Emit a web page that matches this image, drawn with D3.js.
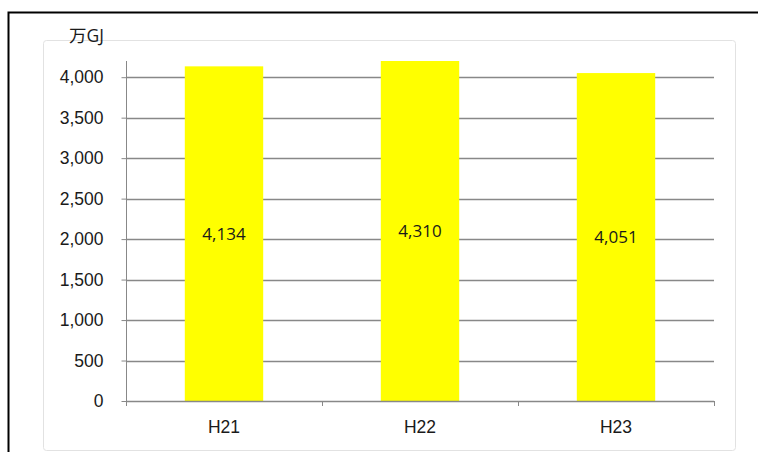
<!DOCTYPE html>
<html>
<head>
<meta charset="utf-8">
<script src="https://cdn.jsdelivr.net/npm/d3@7"></script>
<style>
  body { margin: 0; background: #fff; }
  svg { display: block; font-family: 'Open Sans', 'Noto Sans CJK JP', sans-serif; }
</style>
</head>
<body>
<div id="chart"></div>
<script>
// values
const categories = ['H21', 'H22', 'H23'];
const values = [4134, 4310, 4051];
const yTicks = [0, 500, 1000, 1500, 2000, 2500, 3000, 3500, 4000];
const unitLabel = '万GJ';

const width = 758;
const height = 452;
const plot = { left: 126, right: 714, top: 61, bottom: 401 };
const fontSize = '17.5px';

const svg = d3.select('#chart')
  .append('svg')
  .attr('width', width)
  .attr('height', height);

// outer frame (only top and left edges are in view)
svg.append('path')
  .attr('d', 'M 8.5 ' + height + ' V 12.5 H ' + width)
  .attr('fill', 'none')
  .attr('stroke', '#000')
  .attr('stroke-width', 2);

// inner chart area
svg.append('rect')
  .attr('x', 43.5)
  .attr('y', 40.5)
  .attr('width', 692)
  .attr('height', 410)
  .attr('rx', 3)
  .attr('fill', '#fff')
  .attr('stroke', '#e2e2e2');

const x = d3.scaleBand()
  .domain(categories)
  .range([plot.left, plot.right])
  .paddingInner(0.6)
  .paddingOuter(0.3);

const y = d3.scaleLinear()
  .domain([0, 4200])
  .range([plot.bottom, plot.top]);

// gridlines
svg.append('g')
  .selectAll('line')
  .data(yTicks.filter(d => d > 0))
  .enter()
  .append('line')
  .attr('x1', plot.left)
  .attr('x2', plot.right)
  .attr('y1', d => Math.round(y(d)) + 0.5)
  .attr('y2', d => Math.round(y(d)) + 0.5)
  .attr('stroke', '#888')
  .attr('stroke-width', 1.6);

// bars, clipped to the plot area
svg.append('clipPath')
  .attr('id', 'plot-clip')
  .append('rect')
  .attr('x', plot.left)
  .attr('y', plot.top)
  .attr('width', plot.right - plot.left)
  .attr('height', plot.bottom - plot.top);

svg.append('g')
  .attr('clip-path', 'url(#plot-clip)')
  .selectAll('rect')
  .data(values)
  .enter()
  .append('rect')
  .attr('x', (d, i) => x(categories[i]))
  .attr('y', d => y(d))
  .attr('width', x.bandwidth())
  .attr('height', d => y(0) - y(d))
  .attr('fill', '#ffff00');

// y axis
const yAxis = d3.axisLeft(y)
  .tickValues(yTicks)
  .tickSize(5)
  .tickPadding(18)
  .tickFormat(d3.format(','));

svg.append('g')
  .attr('transform', 'translate(' + (plot.left + 0.5) + ',0)')
  .call(yAxis)
  .call(g => g.select('.domain')
    .attr('d', 'M0,' + plot.top + 'V' + plot.bottom)
    .attr('stroke', '#888'))
  .call(g => g.selectAll('.tick line').attr('stroke', '#888'))
  .call(g => g.selectAll('.tick text')
    .attr('fill', '#1a1a1a')
    .style('font-size', fontSize));

// x axis with ticks at category boundaries
svg.append('g')
  .attr('transform', 'translate(0,' + (plot.bottom + 0.5) + ')')
  .call(d3.axisBottom(x).tickSize(0).tickPadding(19))
  .call(g => g.select('.domain').remove())
  .call(g => g.selectAll('.tick text')
    .attr('fill', '#1a1a1a')
    .style('font-size', fontSize));

const bounds = d3.range(categories.length + 1)
  .map(i => plot.left + i * x.step());

svg.append('line')
  .attr('x1', plot.left)
  .attr('x2', plot.right)
  .attr('y1', plot.bottom + 0.5)
  .attr('y2', plot.bottom + 0.5)
  .attr('stroke', '#888')
  .attr('stroke-width', 1.6);

svg.append('g')
  .selectAll('line')
  .data(bounds)
  .enter()
  .append('line')
  .attr('x1', d => d + 0.5)
  .attr('x2', d => d + 0.5)
  .attr('y1', plot.bottom)
  .attr('y2', plot.bottom + 5)
  .attr('stroke', '#888');

// value labels in the middle of the visible bar
svg.append('g')
  .selectAll('text')
  .data(values)
  .enter()
  .append('text')
  .attr('x', (d, i) => x(categories[i]) + x.bandwidth() / 2)
  .attr('y', d => (Math.max(y(d), plot.top) + y(0)) / 2)
  .attr('dy', '0.35em')
  .attr('text-anchor', 'middle')
  .attr('fill', '#1a1a1a')
  .style('font-size', '17px')
  .text(d => d3.format(',')(d));

// unit label
svg.append('text')
  .attr('x', 69)
  .attr('y', 42)
  .attr('fill', '#1a1a1a')
  .style('font-size', fontSize)
  .text(unitLabel);
</script>
</body>
</html>
